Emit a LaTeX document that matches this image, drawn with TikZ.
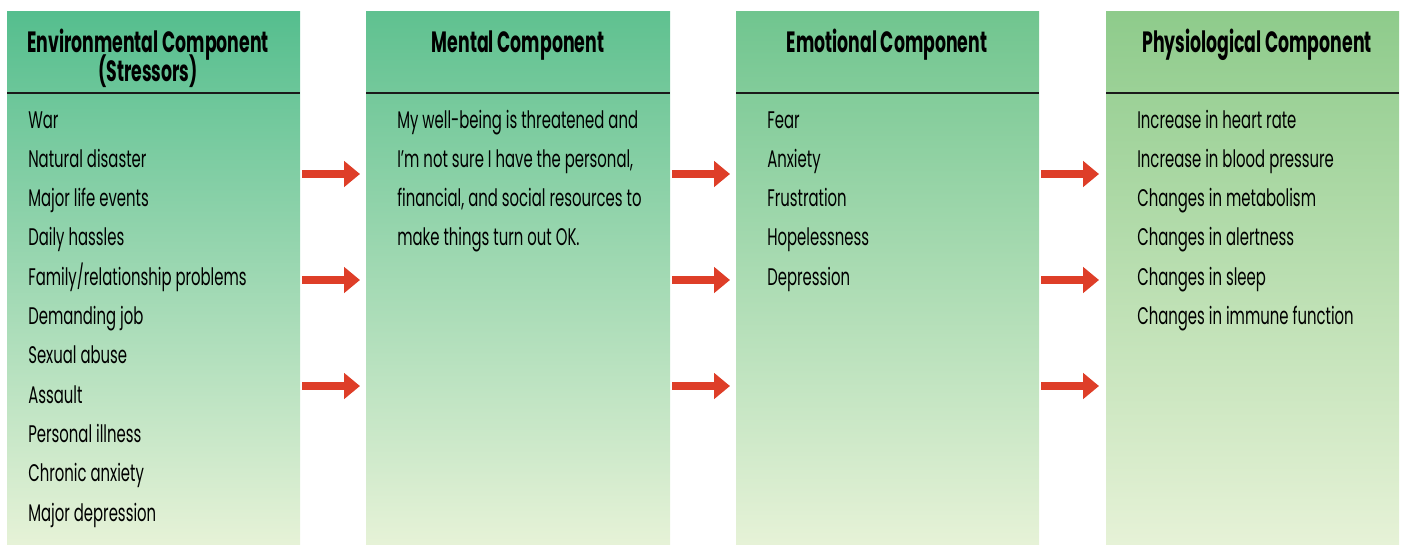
\documentclass[tikz,border=0pt]{standalone}
\usepackage{fontspec}
\setmainfont{Poppins}[FakeStretch=0.62]
\newfontfamily\headfont{Poppins}[FakeStretch=0.59]
\usepackage{tikz}
\usetikzlibrary{arrows.meta}

\definecolor{envtop}{HTML}{55BE8E}
\definecolor{envmid}{HTML}{A3D6A6}
\definecolor{mentop}{HTML}{5FC190}
\definecolor{menmid}{HTML}{A8D8A7}
\definecolor{emotop}{HTML}{70C58F}
\definecolor{emomid}{HTML}{AEDAA7}
\definecolor{phytop}{HTML}{8ECB8B}
\definecolor{phymid}{HTML}{B9DEA6}
\definecolor{colbot}{HTML}{E6F2D7}
\definecolor{flowred}{HTML}{DE3E28}

\tikzset{
  item/.style={anchor=base west,inner sep=0pt,font=\fontsize{18}{21}\selectfont},
  head/.style={anchor=base,inner sep=0pt,font=\headfont\bfseries\fontsize{22}{25}\selectfont},
  rule/.style={draw={rgb,255:red,26;green,26;blue,26},line width=1.1pt},
  flow/.style={draw=flowred,line width=6pt,-{Triangle[length=12pt,width=19pt]}}
}

\begin{document}
\begin{tikzpicture}[x=0.75pt,y=0.75pt,yscale=-1,xscale=1]
\useasboundingbox (0,0) rectangle (1401,544);

%Columns
\shade [top color=envtop,middle color=envmid,bottom color=colbot] (7,11) rectangle (300,544);
\shade [top color=mentop,middle color=menmid,bottom color=colbot] (366,11) rectangle (670,544);
\shade [top color=emotop,middle color=emomid,bottom color=colbot] (736,11) rectangle (1039,544);
\shade [top color=phytop,middle color=phymid,bottom color=colbot] (1106,11) rectangle (1399,544);

%Header rules
\draw [rule] (7,93) -- (300,93) ;
\draw [rule] (366,93) -- (670,93) ;
\draw [rule] (736,93) -- (1039,93) ;
\draw [rule] (1106,93) -- (1399,93) ;

% Header Nodes
\node [head] (envhead) at (148,52) {Environmental Component};
\node [head] (envsub) at (148,81) {(Stressors)};
\node [head] (menhead) at (518,52) {Mental Component};
\node [head] (emohead) at (887,52) {Emotional Component};
\node [head] (phyhead) at (1257,52) {Physiological Component};

% Environmental items
\node [item] (env1) at (28,128) {War};
\node [item] (env2) at (28,167.3) {Natural disaster};
\node [item] (env3) at (28,206.6) {Major life events};
\node [item] (env4) at (28,245.9) {Daily hassles};
\node [item] (env5) at (28,285.2) {Family/relationship problems};
\node [item] (env6) at (28,324.5) {Demanding job};
\node [item] (env7) at (28,363.8) {Sexual abuse};
\node [item] (env8) at (28,403.1) {Assault};
\node [item] (env9) at (28,442.4) {Personal illness};
\node [item] (env10) at (28,481.7) {Chronic anxiety};
\node [item] (env11) at (28,521) {Major depression};

% Mental text
\node [item] (men1) at (397,128) {My well-being is threatened and};
\node [item] (men2) at (397,167.3) {I’m not sure I have the personal,};
\node [item] (men3) at (397,206.6) {financial, and social resources to};
\node [item] (men4) at (397,245.9) {make things turn out OK.};

% Emotional items
\node [item] (emo1) at (767,128) {Fear};
\node [item] (emo2) at (767,167.3) {Anxiety};
\node [item] (emo3) at (767,206.6) {Frustration};
\node [item] (emo4) at (767,245.9) {Hopelessness};
\node [item] (emo5) at (767,285.2) {Depression};

% Physiological items
\node [item] (phy1) at (1137,128) {Increase in heart rate};
\node [item] (phy2) at (1137,167.3) {Increase in blood pressure};
\node [item] (phy3) at (1137,206.6) {Changes in metabolism};
\node [item] (phy4) at (1137,245.9) {Changes in alertness};
\node [item] (phy5) at (1137,285.2) {Changes in sleep};
\node [item] (phy6) at (1137,324.5) {Changes in immune function};

%Arrows between columns
\coordinate (a1) at (302,174);  \coordinate (b1) at (360,174);
\coordinate (a2) at (302,280);  \coordinate (b2) at (360,280);
\coordinate (a3) at (302,386);  \coordinate (b3) at (360,386);
\coordinate (c1) at (672,174);  \coordinate (d1) at (730,174);
\coordinate (c2) at (672,280);  \coordinate (d2) at (730,280);
\coordinate (c3) at (672,386);  \coordinate (d3) at (730,386);
\coordinate (e1) at (1041,174); \coordinate (f1) at (1099,174);
\coordinate (e2) at (1041,280); \coordinate (f2) at (1099,280);
\coordinate (e3) at (1041,386); \coordinate (f3) at (1099,386);
\draw [flow] (a1) -- (b1) ;
\draw [flow] (a2) -- (b2) ;
\draw [flow] (a3) -- (b3) ;
\draw [flow] (c1) -- (d1) ;
\draw [flow] (c2) -- (d2) ;
\draw [flow] (c3) -- (d3) ;
\draw [flow] (e1) -- (f1) ;
\draw [flow] (e2) -- (f2) ;
\draw [flow] (e3) -- (f3) ;

\end{tikzpicture}
\end{document}
